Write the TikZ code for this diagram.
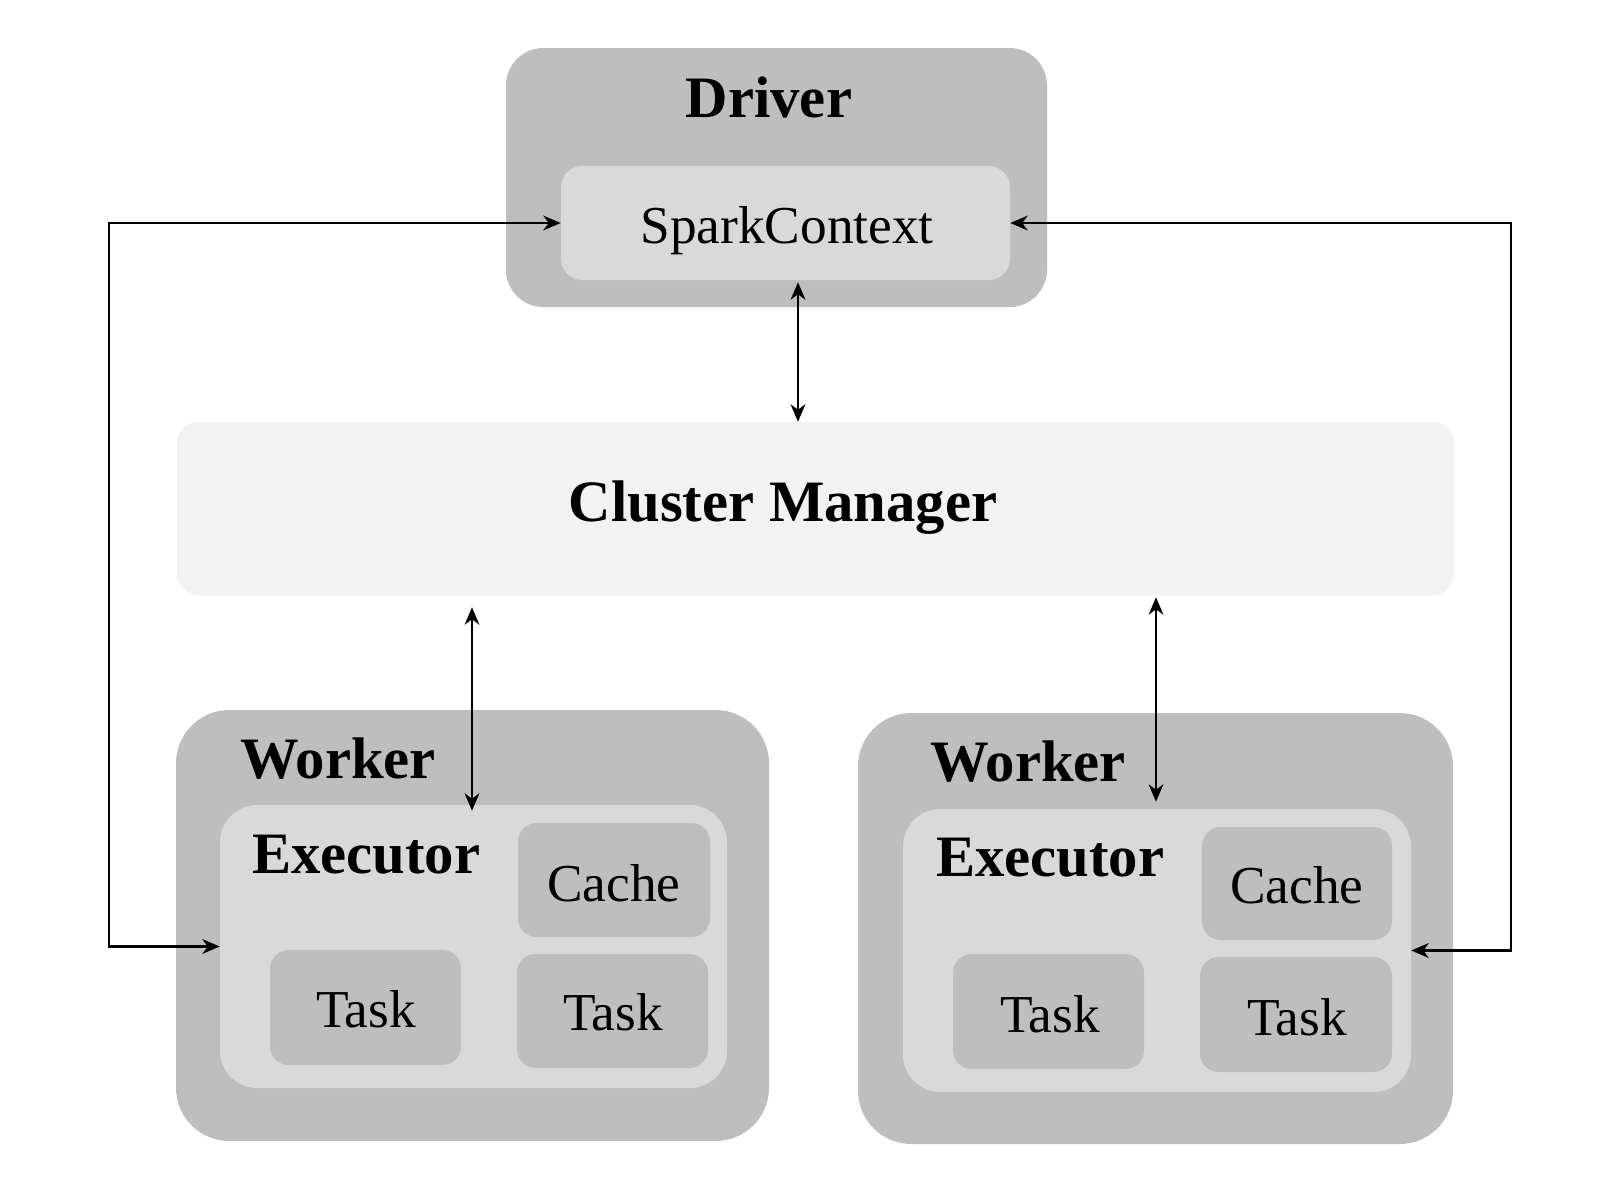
\documentclass[tikz,border=0pt]{standalone}
\usepackage{fontspec}
\setmainfont{Liberation Serif}
\usetikzlibrary{arrows.meta,fit,calc}
\definecolor{gdark}{HTML}{BEBEBE}
\definecolor{gmid}{HTML}{D9D9D9}
\definecolor{glight}{HTML}{F2F2F2}
\begin{document}
\begin{tikzpicture}[x=0.75pt,y=-0.75pt,
  box/.style={inner sep=0pt, draw=none},
  outerbox/.style={box, fill=gdark, rounded corners=40pt},
  midbox/.style={box, fill=gmid, rounded corners=16pt},
  smallbox/.style={box, fill=gdark, rounded corners=14pt},
  cmbox/.style={box, fill=glight, rounded corners=16pt},
  btitle/.style={font=\fontsize{44}{50}\selectfont\bfseries, inner sep=0pt},
  rtext/.style={font=\fontsize{40}{46}\selectfont, inner sep=0pt},
  arr/.style={line width=2pt, {Stealth[length=13pt,width=11pt,inset=4pt]}-{Stealth[length=13pt,width=11pt,inset=4pt]}}
]
\useasboundingbox (0,0) rectangle (1602,1190);
\fill[white] (0,0) rectangle (1602,1190);
% Driver
\node[outerbox, rounded corners=28pt, fit={(506,48) (1047,307)}] (driver) {};
\node[midbox, fit={(561,166) (1010,280)}] (sc) {};
\node[btitle, anchor=base] (drivert) at (769,117) {Driver};
\node[rtext, anchor=base] (sct) at (787,243) {SparkContext};
% Cluster manager
\node[cmbox, fit={(177,422) (1454,595)}] (cm) {};
\node[btitle, anchor=base] (cmt) at (783,521) {Cluster Manager};
% Left worker
\node[outerbox, fit={(176,710) (769,1141)}] (wl) {};
\node[midbox, rounded corners=28pt, fit={(220,805) (727,1088)}] (exl) {};
\node[smallbox, fit={(518,823) (710,937)}] (cachel) {};
\node[smallbox, fit={(270,950) (461,1065)}] (taskla) {};
\node[smallbox, fit={(517,954) (708,1068)}] (tasklb) {};
\node[btitle, anchor=base west] (wlt) at (240,778) {Worker};
\node[btitle, anchor=base west] (exlt) at (252,873) {Executor};
\node[rtext, anchor=base] (cachelt) at (614,901) {Cache};
\node[rtext, anchor=base] (tasklat) at (366,1027) {Task};
\node[rtext, anchor=base] (tasklbt) at (613,1030) {Task};
% Right worker
\node[outerbox, fit={(858,713) (1453,1144)}] (wr) {};
\node[midbox, rounded corners=28pt, fit={(903,809) (1411,1092)}] (exr) {};
\node[smallbox, fit={(1202,827) (1392,940)}] (cacher) {};
\node[smallbox, fit={(953,954) (1144,1069)}] (taskra) {};
\node[smallbox, fit={(1200,957) (1392,1072)}] (taskrb) {};
\node[btitle, anchor=base west] (wrt) at (930,781) {Worker};
\node[btitle, anchor=base west] (exrt) at (936,876) {Executor};
\node[rtext, anchor=base] (cachert) at (1297,903) {Cache};
\node[rtext, anchor=base] (taskrat) at (1050,1032) {Task};
\node[rtext, anchor=base] (taskrbt) at (1297,1035) {Task};
% connector columns
\coordinate (lx) at (109,0);
\coordinate (rx) at (1511,0);
\coordinate (ax1) at (798,0);
\coordinate (ax2) at (472,0);
\coordinate (ax3) at (1156,0);
% connectors
\draw[arr] (sc.west) -- (sc.west -| lx) -- (exl.west -| lx) -- (exl.west);
\draw[arr] (sc.east) -- (sc.east -| rx) -- (exr.east -| rx) -- (exr.east);
\draw[arr] ($(sc.south -| ax1)+(0,2)$) -- (cm.north -| ax1);
\draw[arr] ($(cm.south -| ax2)+(0,12)$) -- ($(exl.north -| ax2)+(0,6)$);
\draw[arr] ($(cm.south -| ax3)+(0,2)$) -- ($(exr.north -| ax3)+(0,-7)$);
\end{tikzpicture}
\end{document}
